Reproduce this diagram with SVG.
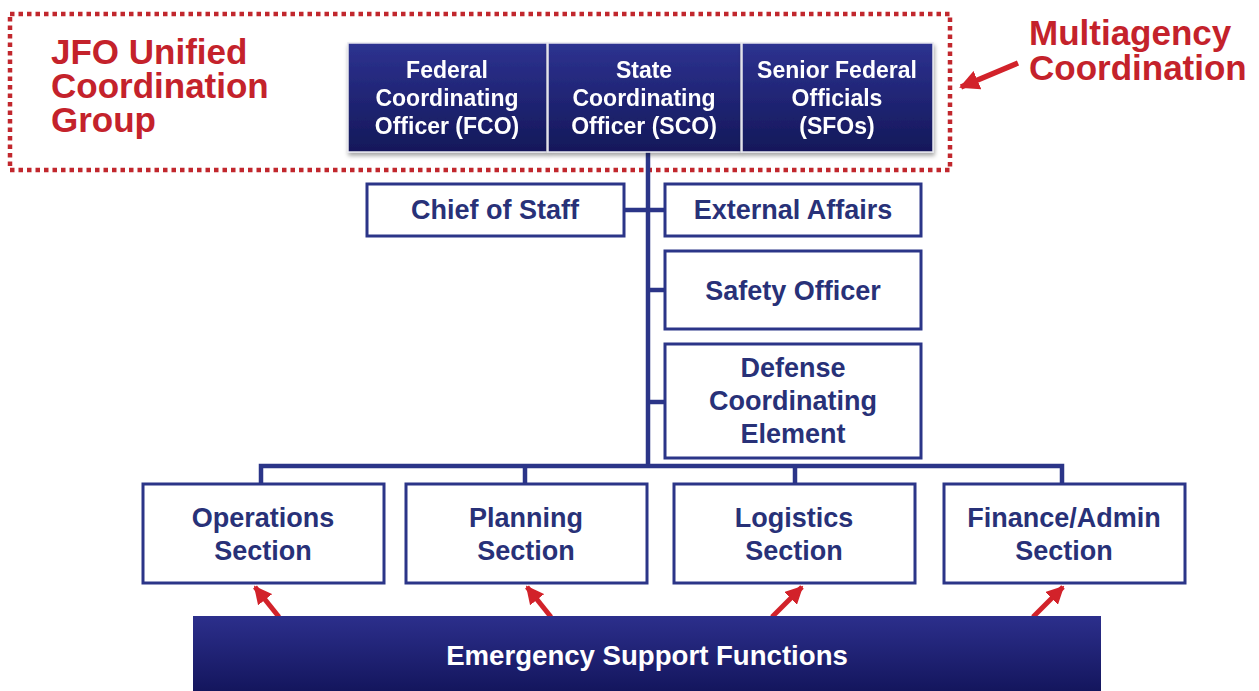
<svg xmlns="http://www.w3.org/2000/svg" width="1259" height="691" viewBox="0 0 1259 691">
<defs>
<linearGradient id="navy" x1="0" y1="0" x2="0" y2="1">
<stop offset="0" stop-color="#2d3290"/>
<stop offset="1" stop-color="#14185a"/>
</linearGradient>
<linearGradient id="navy2" x1="0" y1="0" x2="0" y2="1">
<stop offset="0" stop-color="#2c2f8c"/>
<stop offset="1" stop-color="#12145a"/>
</linearGradient>
<filter id="sh" x="-5%" y="-10%" width="110%" height="130%">
<feDropShadow dx="1" dy="3" stdDeviation="2" flood-color="#000" flood-opacity="0.35"/>
</filter>
<marker id="ah" viewBox="0 0 10 10" refX="9" refY="5" markerWidth="3.6" markerHeight="3.6" orient="auto" markerUnits="strokeWidth">
<path d="M0,0 L10,5 L0,10 z" fill="#d2222a"/>
</marker>
</defs>
<style>
.top{fill:url(#navy);stroke:#e6e6ee;stroke-width:1.5}
.box{fill:#fff;stroke:#2b3588;stroke-width:3}
.wt{font-family:"Liberation Sans",Arial,sans-serif;font-weight:bold;font-size:23px;fill:#fff;text-anchor:middle}
.bt{font-family:"Liberation Sans",Arial,sans-serif;font-weight:bold;font-size:27px;fill:#283178;text-anchor:middle}
.rt{font-family:"Liberation Sans",Arial,sans-serif;font-weight:bold;font-size:35px;fill:#c4222b}
.ln{stroke:#2b3588;stroke-width:4.5;fill:none}
.ra{stroke:#d2222a;stroke-width:5;fill:none;marker-end:url(#ah)}
</style>
<rect width="1259" height="691" fill="#fff"/>

<g id="jfo-group">
<rect x="10" y="14" width="940" height="156" fill="none" stroke="#c1272d" stroke-width="4.5" stroke-dasharray="4.5 4"/>
<text class="rt" x="51" y="64">JFO Unified</text>
<text class="rt" x="51" y="98">Coordination</text>
<text class="rt" x="51" y="132">Group</text>
</g>

<g id="multiagency">
<text class="rt" x="1029" y="45">Multiagency</text>
<text class="rt" x="1029" y="80">Coordination</text>
</g>

<g id="connectors">
<line class="ln" x1="648" y1="150" x2="648" y2="468"/>
<line class="ln" x1="624" y1="210" x2="665" y2="210"/>
<line class="ln" x1="648" y1="290" x2="665" y2="290"/>
<line class="ln" x1="648" y1="402" x2="665" y2="402"/>
<polyline class="ln" points="261,484 261,466 1062,466 1062,484"/>
<line class="ln" x1="525" y1="466" x2="525" y2="484"/>
<line class="ln" x1="795" y1="466" x2="795" y2="484"/>
<line class="ra" style="stroke-width:5.5" x1="1018" y1="63" x2="961" y2="87"/>
<line class="ra" x1="279" y1="617" x2="255" y2="587"/>
<line class="ra" x1="551" y1="617" x2="527" y2="587"/>
<line class="ra" x1="772" y1="617" x2="802" y2="587"/>
<line class="ra" x1="1033" y1="617" x2="1063" y2="587"/>
</g>

<g id="fco" filter="url(#sh)">
<rect class="top" x="348" y="43" width="199" height="109"/>
<text class="wt" x="447" y="78">Federal</text>
<text class="wt" x="447" y="106">Coordinating</text>
<text class="wt" x="447" y="134">Officer (FCO)</text>
</g>
<g id="sco" filter="url(#sh)">
<rect class="top" x="548" y="43" width="193" height="109"/>
<text class="wt" x="644" y="78">State</text>
<text class="wt" x="644" y="106">Coordinating</text>
<text class="wt" x="644" y="134">Officer (SCO)</text>
</g>
<g id="sfo" filter="url(#sh)">
<rect class="top" x="742" y="43" width="191" height="109"/>
<text class="wt" x="837" y="78">Senior Federal</text>
<text class="wt" x="837" y="106">Officials</text>
<text class="wt" x="837" y="134">(SFOs)</text>
</g>

<g id="chief-of-staff">
<rect class="box" x="367" y="184" width="257" height="52"/>
<text class="bt" x="495" y="219">Chief of Staff</text>
</g>
<g id="external-affairs">
<rect class="box" x="665" y="184" width="256" height="52"/>
<text class="bt" x="793" y="219">External Affairs</text>
</g>
<g id="safety-officer">
<rect class="box" x="665" y="251" width="256" height="78"/>
<text class="bt" x="793" y="300">Safety Officer</text>
</g>
<g id="dce">
<rect class="box" x="665" y="344" width="256" height="114"/>
<text class="bt" x="793" y="377">Defense</text>
<text class="bt" x="793" y="410">Coordinating</text>
<text class="bt" x="793" y="443">Element</text>
</g>

<g id="operations">
<rect class="box" x="143" y="484" width="241" height="99"/>
<text class="bt" x="263" y="527">Operations</text>
<text class="bt" x="263" y="560">Section</text>
</g>
<g id="planning">
<rect class="box" x="406" y="484" width="241" height="99"/>
<text class="bt" x="526" y="527">Planning</text>
<text class="bt" x="526" y="560">Section</text>
</g>
<g id="logistics">
<rect class="box" x="674" y="484" width="241" height="99"/>
<text class="bt" x="794" y="527">Logistics</text>
<text class="bt" x="794" y="560">Section</text>
</g>
<g id="finance">
<rect class="box" x="944" y="484" width="241" height="99"/>
<text class="bt" x="1064" y="527">Finance/Admin</text>
<text class="bt" x="1064" y="560">Section</text>
</g>

<g id="esf">
<rect x="193" y="616" width="908" height="80" fill="url(#navy2)"/>
<text class="wt" style="font-size:27.6px" x="647" y="665">Emergency Support Functions</text>
</g>
</svg>
